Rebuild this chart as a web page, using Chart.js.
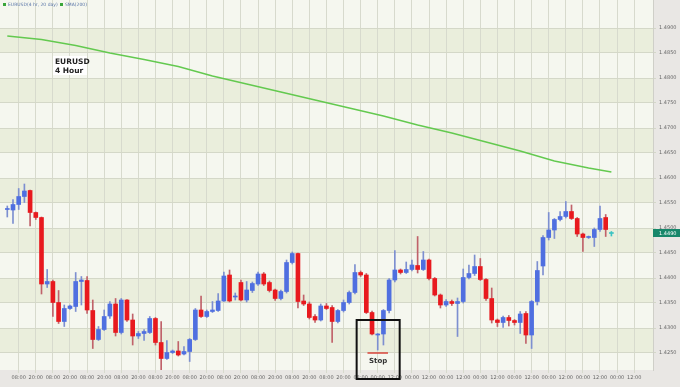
<!DOCTYPE html>
<html>
<head>
    <title>EURUSD 4 Hour</title>
    <script src="https://cdn.jsdelivr.net/npm/chart.js"></script>
    <style>
        html, body { margin: 0; padding: 0; background: #e9e7e4; }
    </style>
</head>
<body>
    <canvas id="fxChart" width="680" height="387"></canvas>

    <script>
        // 4-hour candles
        const opens = [
            1.4537, 1.4536, 1.4547, 1.4563, 1.4575, 1.4531, 1.4521, 1.4388, 1.4393, 1.4351,
            1.4313, 1.4339, 1.4343, 1.4393, 1.4395, 1.4335, 1.4277, 1.4297, 1.4324, 1.4348,
            1.4291, 1.4356, 1.4316, 1.4284, 1.4289, 1.4291, 1.4319, 1.4271, 1.4239, 1.4251,
            1.4254, 1.4248, 1.4253, 1.4277, 1.4336, 1.4323, 1.4333, 1.4335, 1.4354, 1.4406,
            1.4362, 1.4391, 1.4356, 1.4375, 1.4388, 1.4408, 1.4391, 1.4376, 1.4359, 1.4373,
            1.4431, 1.4449, 1.4354, 1.4348, 1.4323, 1.4316, 1.4344, 1.4341, 1.4313, 1.4335,
            1.4351, 1.4371, 1.4411, 1.4406, 1.4331, 1.4286, 1.4288, 1.4335, 1.4396, 1.4416,
            1.4411, 1.4417, 1.4425, 1.4417, 1.4436, 1.4399, 1.4366, 1.4346, 1.4353, 1.4349,
            1.4353, 1.4401, 1.4409, 1.4423, 1.4397, 1.4359, 1.4316, 1.4311, 1.4321, 1.4315,
            1.4311, 1.4329, 1.4286, 1.4353, 1.4424, 1.4481, 1.4496, 1.4517, 1.4523, 1.4533,
            1.4519, 1.4488, 1.4481, 1.4481, 1.4497, 1.4521, 1.4489
        ];
        const highs = [
            1.4544, 1.4557, 1.4579, 1.4588, 1.4576, 1.4532, 1.4522, 1.4417, 1.4396, 1.4375,
            1.4346, 1.4346, 1.4411, 1.4403, 1.4403, 1.4356, 1.4303, 1.4336, 1.4353, 1.4359,
            1.4359, 1.4357, 1.4328, 1.4293, 1.4297, 1.4323, 1.4321, 1.4313, 1.4275, 1.4256,
            1.4273, 1.4263, 1.4279, 1.4339, 1.4364, 1.4336, 1.4353, 1.4369, 1.4412, 1.4416,
            1.4370, 1.4396, 1.4393, 1.4392, 1.4412, 1.4411, 1.4394, 1.4378, 1.4376, 1.4436,
            1.4452, 1.4450, 1.4366, 1.4352, 1.4327, 1.4348, 1.4349, 1.4345, 1.4337, 1.4356,
            1.4374, 1.4427, 1.4414, 1.4409, 1.4334, 1.4289, 1.4337, 1.4399, 1.4455, 1.4418,
            1.4432, 1.4436, 1.4483, 1.4453, 1.4438, 1.4401, 1.4368, 1.4357, 1.4356, 1.4360,
            1.4418, 1.4426, 1.4446, 1.4439, 1.4399, 1.4380, 1.4318, 1.4324, 1.4325, 1.4317,
            1.4333, 1.4333, 1.4355, 1.4433, 1.4485, 1.4531, 1.4519, 1.4533, 1.4553, 1.4546,
            1.4521, 1.4490, 1.4484, 1.4500, 1.4544, 1.4527, 1.4493
        ];
        const lows = [
            1.4522, 1.4509, 1.4537, 1.4551, 1.4504, 1.4517, 1.4368, 1.4381, 1.4323, 1.4309,
            1.4303, 1.4337, 1.4333, 1.4346, 1.4329, 1.4259, 1.4275, 1.4295, 1.4319, 1.4284,
            1.4288, 1.4313, 1.4266, 1.4279, 1.4275, 1.4289, 1.4266, 1.4212, 1.4237, 1.4249,
            1.4244, 1.4246, 1.4233, 1.4275, 1.4321, 1.4321, 1.4331, 1.4333, 1.4353, 1.4352,
            1.4356, 1.4354, 1.4352, 1.4371, 1.4385, 1.4385, 1.4372, 1.4355, 1.4356, 1.4370,
            1.4428, 1.4340, 1.4345, 1.4318, 1.4311, 1.4314, 1.4337, 1.4271, 1.4310, 1.4332,
            1.4348, 1.4368, 1.4403, 1.4329, 1.4286, 1.4256, 1.4266, 1.4330, 1.4392, 1.4408,
            1.4409, 1.4414, 1.4410, 1.4415, 1.4396, 1.4364, 1.4340, 1.4343, 1.4345, 1.4283,
            1.4350, 1.4398, 1.4405, 1.4395, 1.4355, 1.4310, 1.4303, 1.4301, 1.4304, 1.4306,
            1.4289, 1.4269, 1.4259, 1.4346, 1.4406, 1.4476, 1.4479, 1.4514, 1.4520, 1.4517,
            1.4483, 1.4453, 1.4479, 1.4463, 1.4493, 1.4483, 1.4484
        ];
        const closes = [
            1.4538, 1.4547, 1.4563, 1.4574, 1.4531, 1.4521, 1.4388, 1.4393, 1.4351, 1.4313,
            1.4339, 1.4344, 1.4393, 1.4396, 1.4336, 1.4277, 1.4297, 1.4323, 1.4348, 1.4291,
            1.4356, 1.4316, 1.4284, 1.4289, 1.4293, 1.4319, 1.4271, 1.4239, 1.4251, 1.4254,
            1.4246, 1.4253, 1.4277, 1.4336, 1.4323, 1.4333, 1.4336, 1.4354, 1.4404, 1.4354,
            1.4364, 1.4356, 1.4376, 1.4389, 1.4408, 1.4388, 1.4375, 1.4359, 1.4373, 1.4431,
            1.4449, 1.4353, 1.4348, 1.4321, 1.4316, 1.4344, 1.4339, 1.4313, 1.4335, 1.4351,
            1.4371, 1.4411, 1.4406, 1.4331, 1.4288, 1.4288, 1.4335, 1.4396, 1.4416, 1.4411,
            1.4417, 1.4426, 1.4417, 1.4436, 1.4399, 1.4366, 1.4346, 1.4353, 1.4349, 1.4353,
            1.4401, 1.4409, 1.4423, 1.4397, 1.4359, 1.4316, 1.4311, 1.4321, 1.4315, 1.4311,
            1.4328, 1.4286, 1.4353, 1.4415, 1.4481, 1.4496, 1.4517, 1.4523, 1.4533, 1.4519,
            1.4488, 1.4481, 1.4483, 1.4497, 1.4519, 1.4497, 1.4490
        ];

        // SMA(200) sampled along the candles
        const smaBars = [0, 6, 12, 18, 24, 30, 36, 42, 48, 54, 60, 66, 72, 78, 84, 90, 96, 102, 106];
        const smaValues = [
            1.4884, 1.4877, 1.4865, 1.4850, 1.4837, 1.4823, 1.4804, 1.4788, 1.4772, 1.4756,
            1.4740, 1.4724, 1.4706, 1.4690, 1.4672, 1.4654, 1.4634, 1.4620, 1.4612
        ];

        // time labels, one every third bar
        const timeLabels = [
            '08:00', '20:00', '08:00', '20:00', '08:00', '20:00', '08:00', '20:00', '08:00', '20:00',
            '08:00', '20:00', '08:00', '20:00', '08:00', '20:00', '08:00', '20:00', '08:00', '20:00',
            '08:00', '00:00', '12:00', '00:00', '12:00', '00:00', '12:00', '00:00', '12:00', '00:00',
            '12:00', '00:00', '12:00', '00:00', '12:00', '00:00', '12:00'
        ];

        const stopLevel = 1.4250;

        const UP = '#4f6fe0', DOWN = '#e8191e', LAST = '#3cc3c3';

        const bodyColor = opens.map((o, i) => {
            if (i === opens.length - 1) return LAST;
            return closes[i] >= o ? UP : DOWN;
        });
        const wickColor = opens.map((o, i) => {
            if (i === opens.length - 1) return LAST;
            return closes[i] >= o ? '#7d8fd0' : '#c0626a';
        });

        // background bands, legend, notes and the stop box
        const decorations = {
            id: 'decorations',
            beforeDraw(chart) {
                const { ctx, chartArea: a, scales: { y } } = chart;
                ctx.save();
                ctx.fillStyle = '#e9e7e4';
                ctx.fillRect(0, 0, chart.width, chart.height);
                ctx.fillStyle = '#f5f7ef';
                ctx.fillRect(a.left, a.top, a.width, a.height);
                ctx.fillStyle = '#eaeedc';
                for (let k = 0; k <= 12; k += 2) {
                    const lo = 1.4250 + k * 0.005;
                    const top = Math.max(a.top, y.getPixelForValue(lo + 0.005));
                    const bot = Math.min(a.bottom, y.getPixelForValue(lo));
                    ctx.fillRect(a.left, top, a.width, bot - top);
                }
                ctx.restore();
            },
            afterDraw(chart) {
                const { ctx, chartArea: a, scales: { x, y } } = chart;
                ctx.save();

                // legend line at top
                ctx.font = '4.5px "DejaVu Sans"';
                ctx.textBaseline = 'middle';
                ctx.fillStyle = '#3aa63a';
                ctx.fillRect(3, 3, 3, 3);
                ctx.fillRect(60, 3, 3, 3);
                ctx.fillStyle = '#5a76a8';
                ctx.fillText('EURUSD(4 hr, 20 day)', 8, 5);
                ctx.fillText('SMA(200)', 65, 5);

                // instrument note
                ctx.fillStyle = '#ffffff';
                ctx.fillRect(53, 56, 34, 19);
                ctx.fillStyle = '#222';
                ctx.font = 'bold 7.5px "DejaVu Sans"';
                ctx.textBaseline = 'top';
                ctx.fillText('EURUSD', 55, 58);
                ctx.fillText('4 Hour', 55, 67);

                // stop box
                const bx0 = x.getPixelForValue(61.3);
                const bx1 = x.getPixelForValue(68.85);
                const by0 = y.getPixelForValue(1.4316);
                const by1 = a.bottom + 9;
                ctx.strokeStyle = '#111';
                ctx.lineWidth = 2;
                ctx.strokeRect(bx0, by0, bx1 - bx0, by1 - by0);
                const sy = y.getPixelForValue(stopLevel);
                ctx.strokeStyle = '#d9443a';
                ctx.lineWidth = 1.5;
                ctx.beginPath();
                ctx.moveTo(x.getPixelForValue(63.2), sy);
                ctx.lineTo(x.getPixelForValue(66.8), sy);
                ctx.stroke();
                ctx.fillStyle = '#333';
                ctx.font = 'bold 7px "DejaVu Sans"';
                ctx.textAlign = 'center';
                ctx.fillText('Stop', (bx0 + bx1) / 2, sy + 5);

                // last price tag
                const last = closes[closes.length - 1];
                const py = y.getPixelForValue(last);
                ctx.fillStyle = '#17876a';
                ctx.fillRect(a.right, py - 4, chart.width - a.right, 8);
                ctx.fillStyle = '#ffffff';
                ctx.font = '5px "DejaVu Sans"';
                ctx.textBaseline = 'middle';
                ctx.textAlign = 'left';
                ctx.fillText(last.toFixed(4), a.right + 6, py + 0.5);

                ctx.restore();
            }
        };

        const ctx = document.getElementById('fxChart').getContext('2d');

        new Chart(ctx, {
            type: 'bar',
            data: {
                datasets: [
                    {
                        type: 'line',
                        data: smaBars.map((b, i) => ({ x: b, y: smaValues[i] })),
                        borderColor: '#63c94f',
                        borderWidth: 1.5,
                        pointRadius: 0,
                        tension: 0,
                        order: 0
                    },
                    {
                        data: opens.map((o, i) => ({ x: i, y: [o, closes[i]] })),
                        backgroundColor: bodyColor,
                        barThickness: 4,
                        minBarLength: 1,
                        grouped: false,
                        borderSkipped: false,
                        order: 1
                    },
                    {
                        data: opens.map((o, i) => ({ x: i, y: [lows[i], highs[i]] })),
                        backgroundColor: wickColor,
                        barThickness: 1,
                        grouped: false,
                        borderSkipped: false,
                        order: 2
                    }
                ]
            },
            options: {
                responsive: false,
                animation: false,
                devicePixelRatio: 1,
                layout: { padding: 0, autoPadding: false },
                plugins: {
                    legend: { display: false },
                    tooltip: { enabled: false }
                },
                scales: {
                    x: {
                        type: 'linear',
                        position: 'bottom',
                        min: -1.28,
                        max: 113.3,
                        offset: false,
                        afterFit: s => {
                            s.height = 17;
                            s.paddingLeft = 0;
                            s.paddingRight = 0;
                        },
                        afterBuildTicks: s => {
                            s.ticks = timeLabels.map((t, i) => ({ value: 2 + i * 3 }));
                        },
                        ticks: {
                            autoSkip: false,
                            maxRotation: 0,
                            padding: 2,
                            color: '#666',
                            font: { size: 5, family: 'DejaVu Sans' },
                            callback: (v, i) => timeLabels[i]
                        },
                        grid: { color: '#d7dacd', tickLength: 3, offset: false },
                        border: { display: false }
                    },
                    y: {
                        position: 'right',
                        min: 1.4216,
                        max: 1.4956,
                        afterFit: s => {
                            s.width = 27;
                            s.paddingTop = 0;
                            s.paddingBottom = 0;
                        },
                        afterBuildTicks: s => {
                            s.ticks = s.ticks.filter(t => t.value < 1.4925);
                        },
                        ticks: {
                            stepSize: 0.005,
                            includeBounds: false,
                            padding: 3,
                            color: '#666',
                            font: { size: 5, family: 'DejaVu Sans' },
                            callback: v => v.toFixed(4)
                        },
                        grid: { color: '#d4d8c8', tickLength: 3 },
                        border: { color: '#cfcfc8' }
                    }
                }
            },
            plugins: [decorations]
        });
    </script>
</body>
</html>
